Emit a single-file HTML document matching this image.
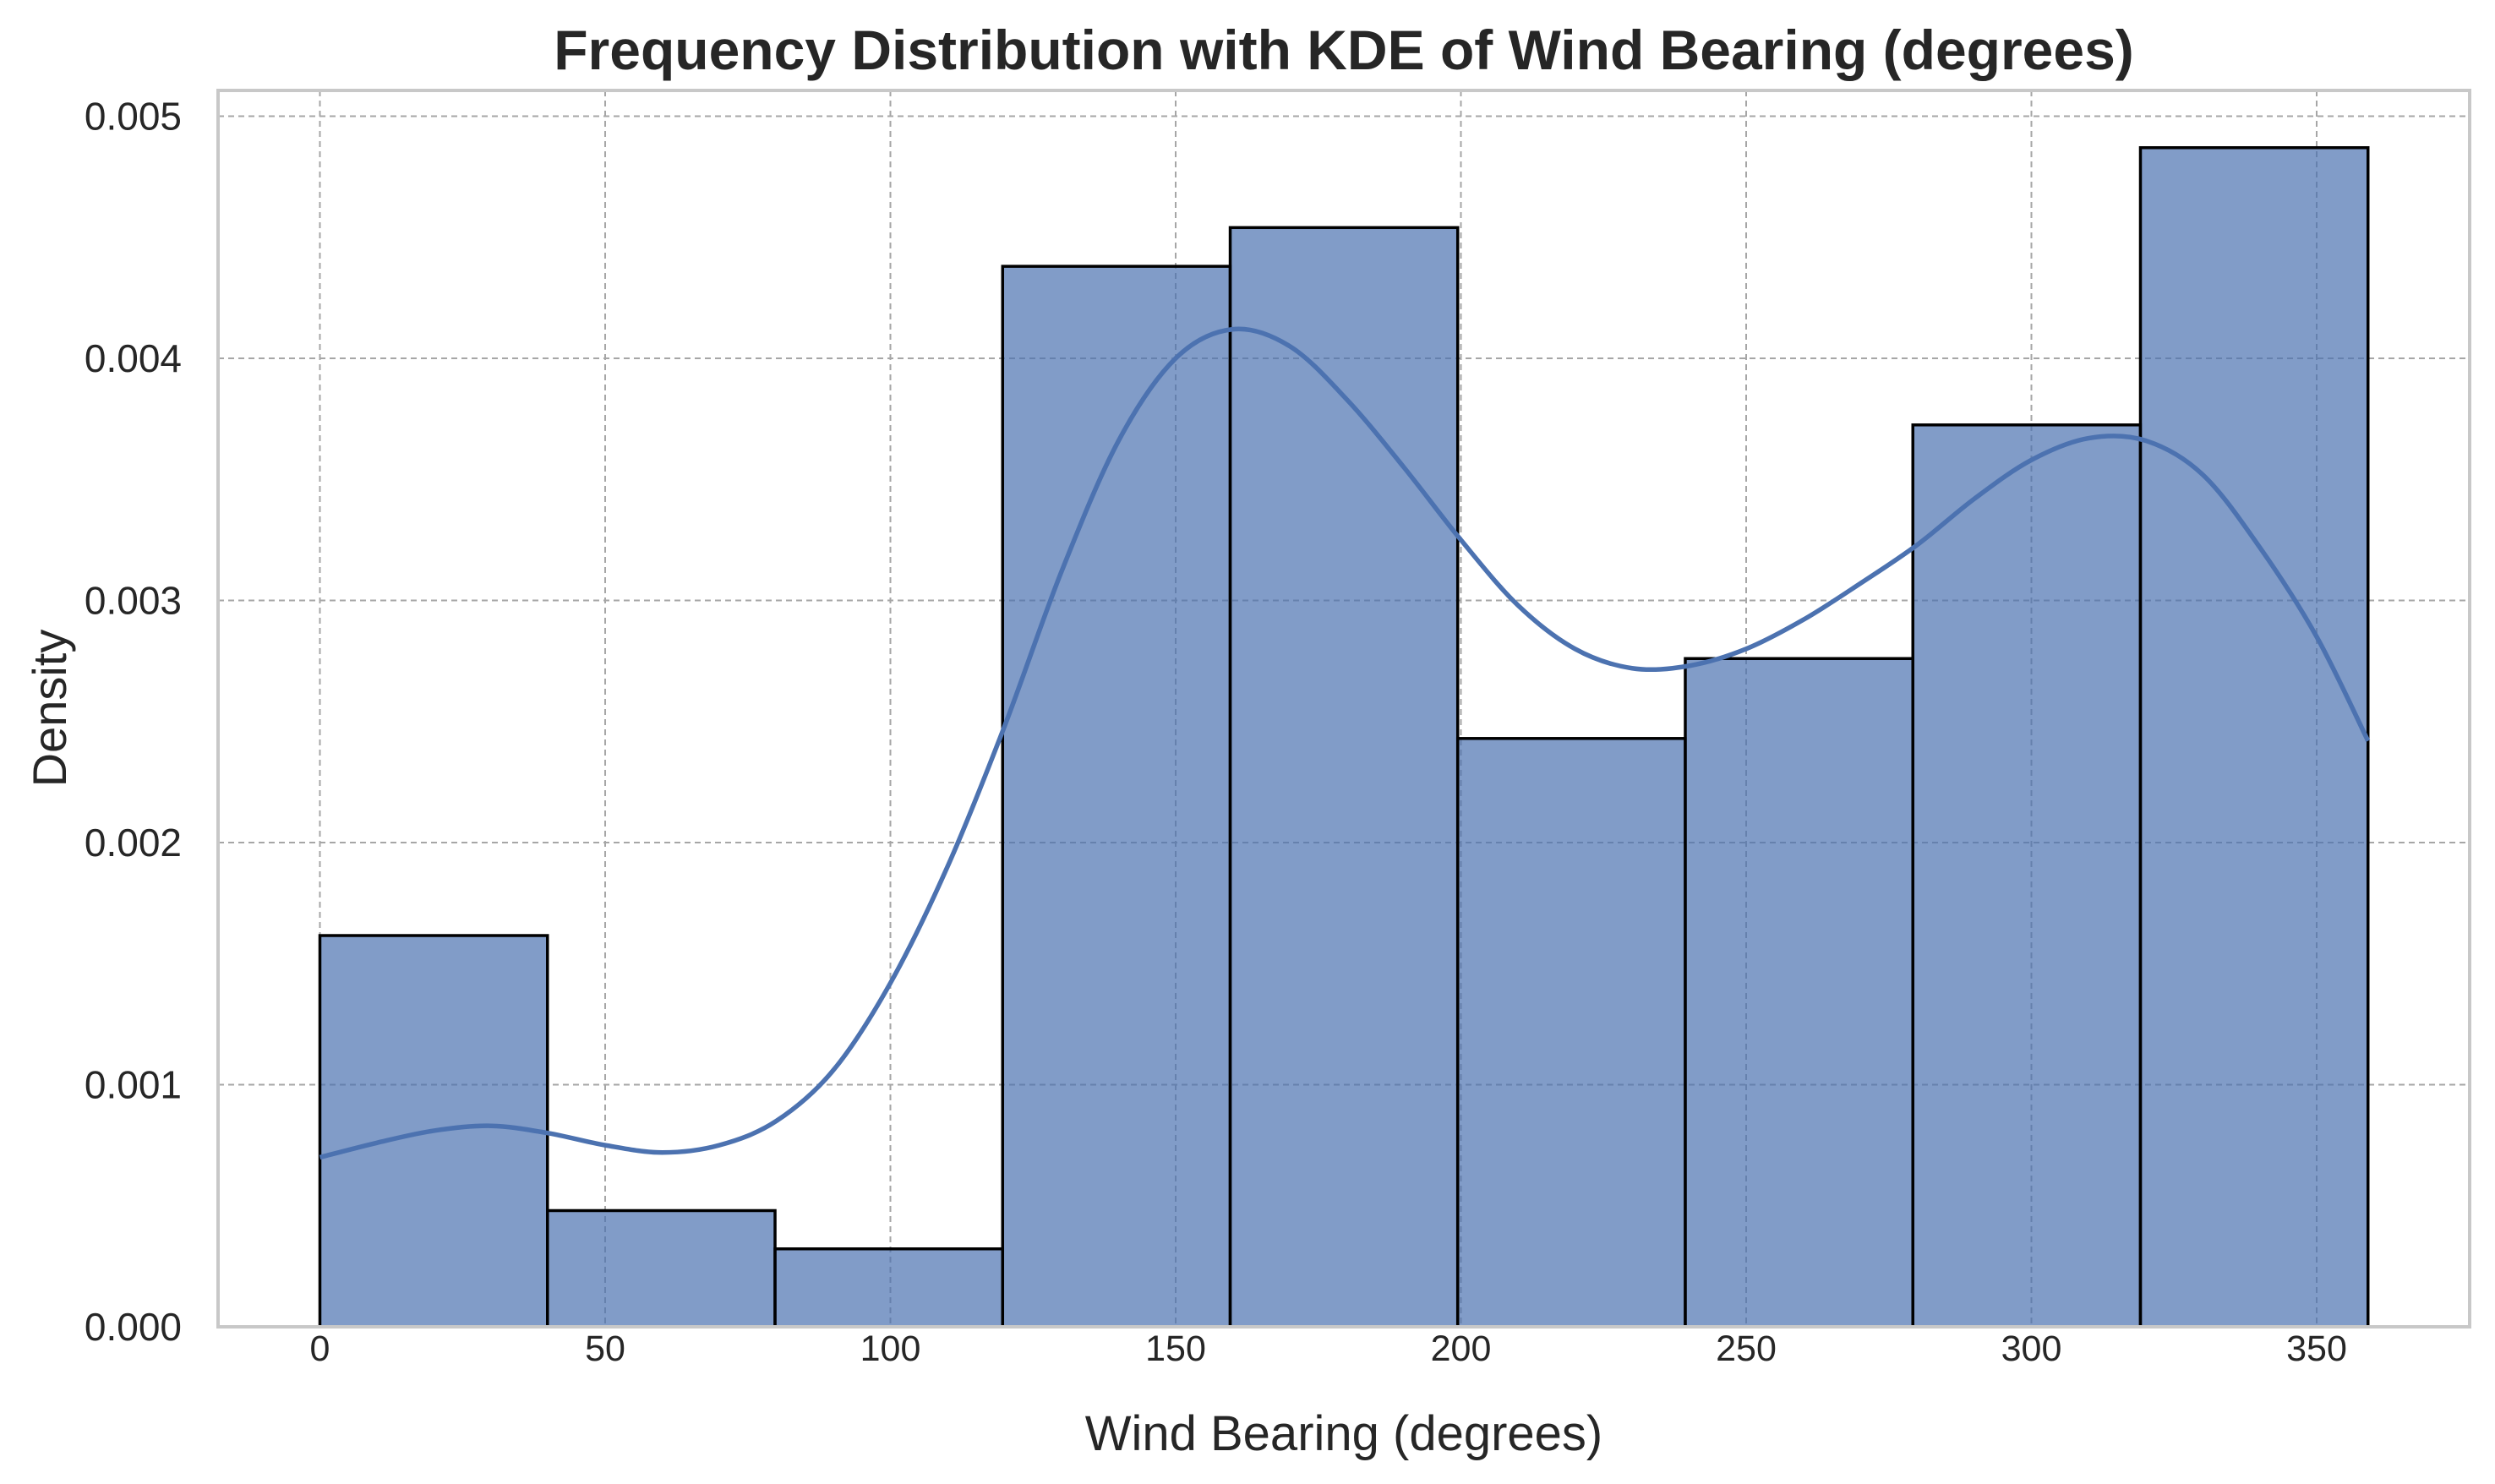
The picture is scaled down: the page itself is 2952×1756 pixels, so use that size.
<!DOCTYPE html>
<html><head><meta charset="utf-8"><style>
html,body{margin:0;padding:0;background:#fff;}
svg{display:block;}
text{font-family:"Liberation Sans",Arial,sans-serif;fill:#262626;}
</style></head><body>
<svg id="chart" width="2952" height="1756" viewBox="0 0 2952 1756" xmlns="http://www.w3.org/2000/svg">
<g id="grid"></g>
<g id="bars"></g>
<path id="kde" fill="none" stroke="#4c72b0" stroke-width="5.5" stroke-linejoin="round"/>
<rect x="258" y="107" width="2664" height="1463" fill="none" stroke="#c8c8c8" stroke-width="4"/>
<g id="ticks"></g>
<text x="1590" y="82" text-anchor="middle" font-size="66" font-weight="bold" fill="#333">Frequency Distribution with KDE of Wind Bearing (degrees)</text>
<text x="1590" y="1716" text-anchor="middle" font-size="58">Wind Bearing (degrees)</text>
<text transform="translate(78,838) rotate(-90)" text-anchor="middle" font-size="56">Density</text>
</svg>
<script>
const binEdges = [0, 39.89, 79.78, 119.67, 159.56, 199.44, 239.33, 279.22, 319.11, 359];
const binDensity = [0.001616, 0.00048, 0.000322, 0.00438, 0.00454, 0.00243, 0.00276, 0.003725, 0.00487];
const kdeX = [0,10,20,30,40,50,60,70,80,90,100,110,120,130,140,150,160,170,180,190,200,210,220,230,240,250,260,270,280,290,300,310,320,330,340,350,359];
const kdeY = [0.00070,0.00076,0.00081,0.00083,0.00080,0.00075,0.00072,0.00075,0.00085,0.00106,0.00142,0.00190,0.00248,0.00312,0.00366,0.00400,0.00412,0.00405,0.00383,0.00355,0.00325,0.00298,0.00280,0.00272,0.00273,0.00280,0.00292,0.00307,0.00323,0.00342,0.00358,0.00367,0.00366,0.00352,0.00322,0.00285,0.00242];
const xTicks = [0,50,100,150,200,250,300,350];
const yTicks = [0,0.001,0.002,0.003,0.004,0.005];
const yTickLabels = ["0.000","0.001","0.002","0.003","0.004","0.005"];

const NS = "http://www.w3.org/2000/svg";
const X0 = 378.5, XS = 6.75, Y0 = 1570, YS = 286500;
function xs(v){return X0 + v*XS;}
function ys(v){return Y0 - v*YS;}
function mk(tag, attrs, parent){const e=document.createElementNS(NS,tag);for(const k in attrs)e.setAttribute(k,attrs[k]);parent.appendChild(e);return e;}

const grid=document.getElementById('grid'), bars=document.getElementById('bars'), ticks=document.getElementById('ticks');
xTicks.forEach(t=>{
  const l=mk('line',{x1:xs(t),x2:xs(t),y1:107,y2:1570,stroke:'#a6a6a6','stroke-width':2,'stroke-dasharray':'7,5'},grid);
  
  
  const tx=mk('text',{x:xs(t),y:1610,'text-anchor':'middle','font-size':43},ticks);
  tx.textContent=t;
  
  
});
yTicks.forEach((t,i)=>{
  const l=mk('line',{x1:258,x2:2922,y1:ys(t),y2:ys(t),stroke:'#a6a6a6','stroke-width':2,'stroke-dasharray':'7,5'},grid);
  
  
  const tx=mk('text',{x:215,y:ys(t)+16,'text-anchor':'end','font-size':46},ticks);
  tx.textContent=yTickLabels[i];
  
  
});
binDensity.forEach((d,i)=>{
  const x1=xs(binEdges[i]), x2=xs(binEdges[i+1]);
  const r=mk('rect',{x:x1,y:ys(d),width:x2-x1,height:Y0-ys(d),fill:'#4c72b0','fill-opacity':0.7,stroke:'#000','stroke-width':3.5},bars);
  
  
});
const pts=kdeX.map((x,i)=>[xs(x),ys(kdeY[i])]);
let d='M'+pts[0][0]+','+pts[0][1];
for(let i=0;i<pts.length-1;i++){
  const p0=pts[Math.max(0,i-1)],p1=pts[i],p2=pts[i+1],p3=pts[Math.min(pts.length-1,i+2)];
  const c1=[p1[0]+(p2[0]-p0[0])/6,p1[1]+(p2[1]-p0[1])/6];
  const c2=[p2[0]-(p3[0]-p1[0])/6,p2[1]-(p3[1]-p1[1])/6];
  d+=' C'+c1[0]+','+c1[1]+' '+c2[0]+','+c2[1]+' '+p2[0]+','+p2[1];
}
document.getElementById('kde').setAttribute('d',d);
</script>
</body></html>
